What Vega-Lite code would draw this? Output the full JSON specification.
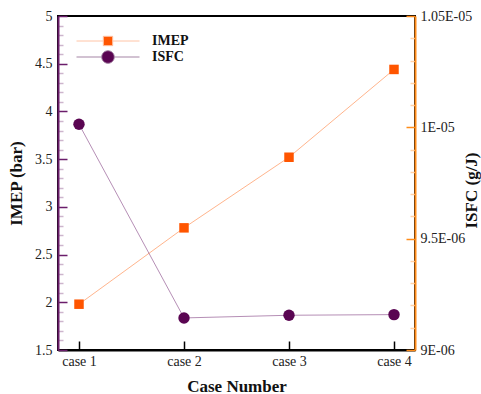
{
  "$schema": "https://vega.github.io/schema/vega-lite/v6.json",
  "width": 357,
  "height": 334,
  "autosize": "none",
  "padding": {"left": 58, "top": 16, "right": 66, "bottom": 44},
  "background": "white",
  "config": {
    "view": {"stroke": "black", "strokeWidth": 2},
    "font": "Liberation Serif",
    "axis": {
      "labelFont": "Liberation Serif",
      "titleFont": "Liberation Serif",
      "labelFontSize": 14,
      "titleFontSize": 17,
      "titleFontWeight": "bold",
      "labelColor": "#222222",
      "titleColor": "#111111",
      "grid": false,
      "domainWidth": 2
    }
  },
  "datasets": {
    "main": [
      {"case": "case 1", "IMEP": 1.98, "ISFC": 1.0014e-5},
      {"case": "case 2", "IMEP": 2.78, "ISFC": 9.144e-6},
      {"case": "case 3", "IMEP": 3.52, "ISFC": 9.156e-6},
      {"case": "case 4", "IMEP": 4.44, "ISFC": 9.159e-6}
    ],
    "legend": [
      {"series": "IMEP"},
      {"series": "ISFC"}
    ]
  },
  "data": {"name": "main"},
  "layer": [
    {
      "encoding": {
        "x": {
          "field": "case", "type": "nominal", "sort": null,
          "scale": {"type": "point", "padding": 0.2, "domain": ["case 1", "case 2", "case 3", "case 4"]},
          "axis": {"title": "Case Number", "labelAngle": 0, "domainColor": "black", "tickColor": "black", "tickSize": -9, "tickWidth": 1.5, "labelPadding": 13, "titleY": 36, "titleBaseline": "middle"}
        },
        "y": {
          "field": "IMEP", "type": "quantitative",
          "scale": {"domain": [1.5, 5], "nice": false, "zero": false},
          "axis": {
            "orient": "left",
            "title": "IMEP (bar)",
            "values": [1.5,1.6,1.7,1.8,1.9,2,2.1,2.2,2.3,2.4,2.5,2.6,2.7,2.8,2.9,3,3.1,3.2,3.3,3.4,3.5,3.6,3.7,3.8,3.9,4,4.1,4.2,4.3,4.4,4.5,4.6,4.7,4.8,4.9,5],
            "labelExpr": "abs(datum.value*2 - round(datum.value*2)) < 0.001 ? format(datum.value, '~g') : ''",
            "tickSize": {"condition": {"test": "abs(datum.value*2 - round(datum.value*2)) < 0.001", "value": -9}, "value": -5},
            "tickColor": {"condition": {"test": "abs(datum.value*2 - round(datum.value*2)) < 0.001", "value": "#6b1d6b"}, "value": "#cdb5cd"},
            "tickWidth": 1.5,
            "domainColor": "#6b1d6b",
            "labelPadding": 15,
            "labelFlush": false,
            "labelOverlap": false,
            "titleX": -42,
            "titleY": 167,
            "titleAngle": 270,
            "titleAlign": "center",
            "titleBaseline": "middle"
          }
        }
      },
      "layer": [
        {"mark": {"type": "line", "color": "#ff6a1a", "strokeWidth": 1, "opacity": 0.5}},
        {"mark": {"type": "point", "shape": "square", "filled": true, "size": 90, "color": "#ff5500", "opacity": 1}}
      ]
    },
    {
      "encoding": {
        "x": {
          "field": "case", "type": "nominal", "sort": null,
          "scale": {"type": "point", "padding": 0.2, "domain": ["case 1", "case 2", "case 3", "case 4"]}
        },
        "y": {
          "field": "ISFC", "type": "quantitative",
          "scale": {"domain": [9e-6, 1.05e-5], "nice": false, "zero": false},
          "axis": {
            "orient": "right",
            "title": "ISFC (g/J)",
            "values": [9e-6,9.1e-6,9.2e-6,9.3e-6,9.4e-6,9.5e-6,9.6e-6,9.7e-6,9.8e-6,9.9e-6,1e-5,1.01e-5,1.02e-5,1.03e-5,1.04e-5,1.05e-5],
            "labelExpr": "abs(datum.value*2e6 - round(datum.value*2e6)) < 0.001 ? replace(upper(format(datum.value, '.3~e')), 'E-', 'E-0') : ''",
            "tickSize": {"condition": {"test": "abs(datum.value*2e6 - round(datum.value*2e6)) < 0.001", "value": -9}, "value": -5},
            "tickColor": {"condition": {"test": "abs(datum.value*2e6 - round(datum.value*2e6)) < 0.001", "value": "#ff8c1a"}, "value": "#ffd2a8"},
            "tickWidth": 1.5,
            "domainColor": "#ff8c1a",
            "labelPadding": 14,
            "labelFlush": false,
            "labelOverlap": false,
            "titleX": 56,
            "titleY": 174,
            "titleAngle": 270,
            "titleAlign": "center",
            "titleBaseline": "middle"
          }
        }
      },
      "layer": [
        {"mark": {"type": "line", "color": "#6b1d6b", "strokeWidth": 1, "opacity": 0.5}},
        {"mark": {"type": "point", "shape": "circle", "filled": true, "size": 130, "color": "#5a0552", "opacity": 1}}
      ]
    },
    {
      "data": {"name": "legend"},
      "mark": {"type": "point", "filled": true, "opacity": 0, "strokeWidth": 1},
      "encoding": {
        "color": {
          "field": "series", "type": "nominal",
          "scale": {"domain": ["IMEP", "ISFC"], "range": ["#ff5500", "#5a0552"]}
        },
        "stroke": {
          "field": "series", "type": "nominal",
          "scale": {"domain": ["IMEP", "ISFC"], "range": ["#ffc4a6", "#a585a5"]}
        },
        "shape": {
          "field": "series", "type": "nominal",
          "scale": {"domain": ["IMEP", "ISFC"], "range": ["M-6.3,0H-0.94M0.94,0H6.3M-0.94,-0.94H0.94V0.94H-0.94Z", "M-6.3,0H-1.26M1.26,0H6.3M-1.26,0A1.26,1.26,0,1,0,1.26,0A1.26,1.26,0,1,0,-1.26,0Z"]},
          "legend": {
            "title": null,
            "orient": "none",
            "legendX": 43,
            "legendY": 18,
            "symbolSize": 100,
            "symbolStrokeWidth": 1,
            "symbolOpacity": 1,
            "labelOffset": 37,
            "labelFont": "Liberation Serif",
            "labelFontSize": 14,
            "labelFontWeight": "bold",
            "labelColor": "#111111",
            "rowPadding": 0
          }
        }
      }
    }
  ],
  "resolve": {"scale": {"y": "independent"}}
}
